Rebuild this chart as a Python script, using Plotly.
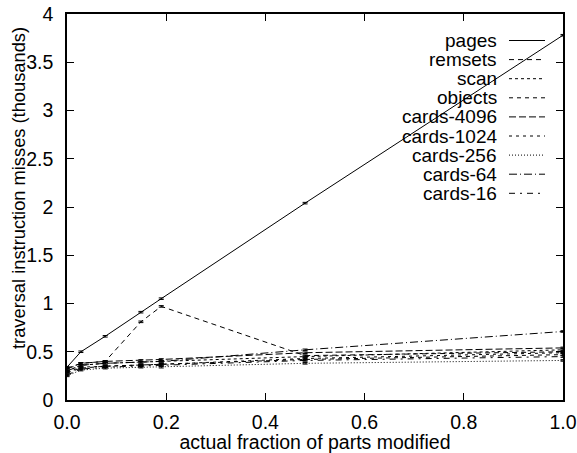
import plotly.graph_objects as go

fractions = [0.0, 0.028, 0.077, 0.149, 0.19, 0.48, 1.0]

series_names = ["pages", "remsets", "scan", "objects", "cards-4096",
                "cards-1024", "cards-256", "cards-64", "cards-16"]

pages = [0.34, 0.50, 0.66, 0.91, 1.05, 2.04, 3.78]
remsets = [0.33, 0.38, 0.40, 0.81, 0.97, 0.46, 0.50]
scan = [0.30, 0.36, 0.38, 0.39, 0.40, 0.45, 0.52]
objects = [0.28, 0.33, 0.35, 0.36, 0.37, 0.42, 0.47]
cards_4096 = [0.32, 0.38, 0.40, 0.41, 0.42, 0.49, 0.54]
cards_1024 = [0.29, 0.34, 0.35, 0.36, 0.37, 0.43, 0.49]
cards_256 = [0.25, 0.31, 0.33, 0.34, 0.34, 0.38, 0.41]
cards_64 = [0.30, 0.36, 0.38, 0.39, 0.40, 0.52, 0.71]
cards_16 = [0.26, 0.32, 0.34, 0.35, 0.36, 0.41, 0.45]

values = [pages, remsets, scan, objects, cards_4096, cards_1024,
          cards_256, cards_64, cards_16]

dashes = ["solid", "5px,4px", "3px,3px", "4px,4px", "7px,3px",
          "3px,4px", "1px,2px", "8px,3px,1px,3px", "6px,5px,2px,5px"]

x_title = "actual fraction of parts modified"
y_title = "traversal instruction misses (thousands)"

FONT = "Liberation Sans, Arial, Helvetica, sans-serif"
FS = 19.5
KEY_FS = 19

W, H = 577, 453
ml, mr, mt, mb = 67, 14, 14, 53
pw, ph = W - ml - mr, H - mt - mb

fig = go.Figure()
for name, vals, dash in zip(series_names, values, dashes):
    fig.add_trace(go.Scatter(
        x=fractions, y=vals, mode="lines", name=name,
        line=dict(color="black", width=1, dash=dash),
        error_y=dict(type="constant", value=0.008, color="black",
                     thickness=1, width=2.5),
        showlegend=False,
    ))

# gnuplot-style key: text right-aligned, sample line to the right
row0, rowstep = 40.5, 19.1
for i, (name, dash) in enumerate(zip(series_names, dashes)):
    ypx = row0 + rowstep * i
    yp = (H - mb - ypx) / ph
    fig.add_annotation(x=(499 - ml) / pw, y=yp, xref="paper", yref="paper",
                       text=name, showarrow=False, xanchor="right",
                       yanchor="middle",
                       font=dict(family=FONT, size=KEY_FS, color="black"))
    fig.add_shape(type="line", xref="paper", yref="paper",
                  x0=(509 - ml) / pw, x1=(545 - ml) / pw, y0=yp, y1=yp,
                  line=dict(color="black", width=1, dash=dash))

# y axis title placed like gnuplot's (slightly above centre)
fig.add_annotation(x=(18 - ml) / pw, y=(H - mb - 188) / ph,
                   xref="paper", yref="paper", text=y_title,
                   textangle=-90, showarrow=False, xanchor="center",
                   yanchor="middle",
                   font=dict(family=FONT, size=18.3, color="black"))

axis_common = dict(
    showgrid=False, zeroline=False, showline=True, linecolor="black",
    linewidth=1.5, mirror="ticks", ticks="inside", ticklen=7,
    tickcolor="black", tickwidth=1, automargin=False,
    tickfont=dict(family=FONT, size=FS, color="black"),
)

fig.update_xaxes(range=[0, 1], tickvals=[0, 0.2, 0.4, 0.6, 0.8, 1.0],
                 tickformat=".1f", ticklabelstandoff=4,
                 title=dict(text=x_title, standoff=0,
                            font=dict(family=FONT, size=FS, color="black")),
                 **axis_common)
fig.update_yaxes(range=[0, 4], tickvals=[0, 0.5, 1, 1.5, 2, 2.5, 3, 3.5, 4],
                 ticktext=["0", "0.5", "1", "1.5", "2", "2.5", "3", "3.5", "4"],
                 ticklabelstandoff=8,
                 **axis_common)

fig.update_layout(
    width=W, height=H,
    margin=dict(l=ml, r=mr, t=mt, b=mb),
    plot_bgcolor="white", paper_bgcolor="white",
    font=dict(family=FONT, size=FS, color="black"),
)

fig.write_html("out.html")
